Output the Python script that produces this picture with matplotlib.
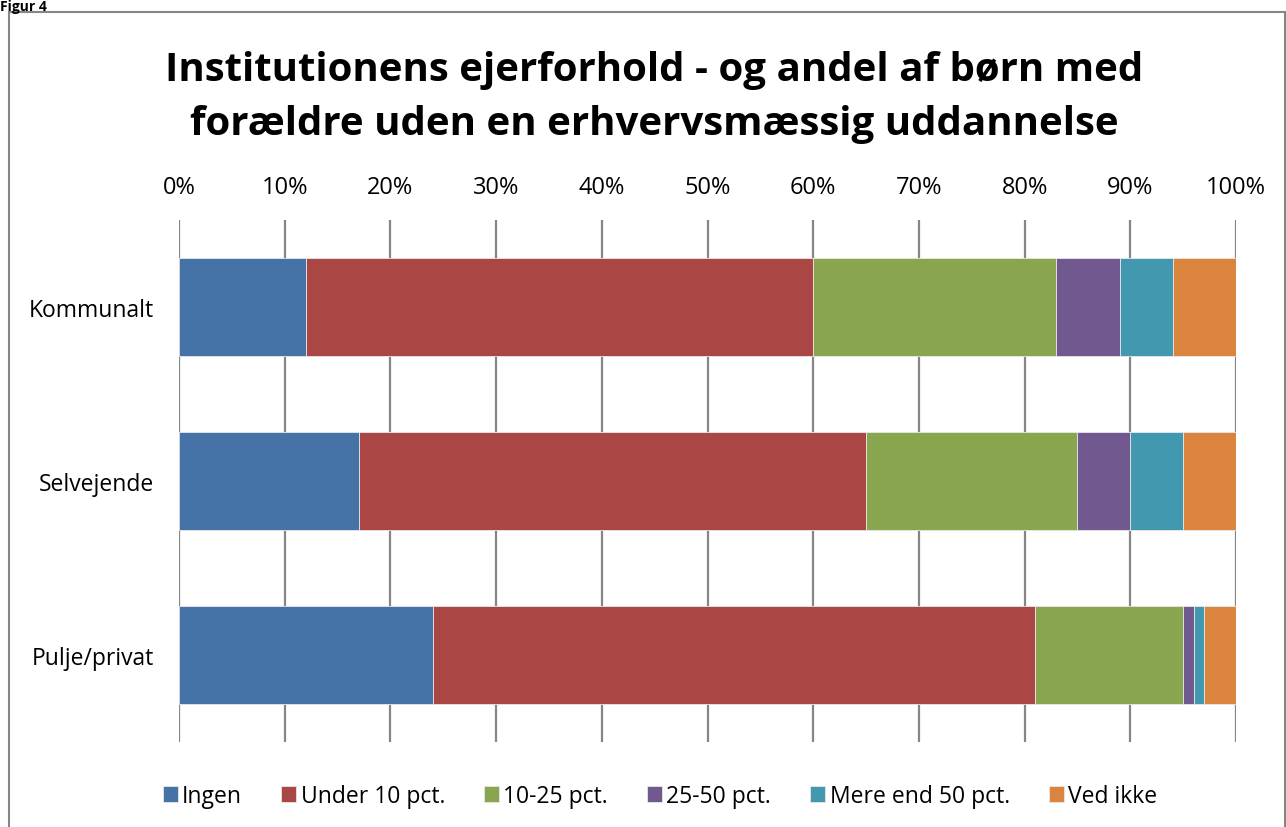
import matplotlib
matplotlib.use('Agg')
import matplotlib.pyplot as plt
import numpy as np
from matplotlib.patches import Rectangle

plt.rcParams['font.family'] = ['Open Sans', 'DejaVu Sans']

# Data (andel i %)
kategorier = ['Kommunalt', 'Selvejende', 'Pulje/privat']
serier = ['Ingen', 'Under 10 pct.', '10-25 pct.', '25-50 pct.', 'Mere end 50 pct.', 'Ved ikke']
ingen = [12, 17, 24]
under10 = [48, 48, 57]
p10_25 = [23, 20, 14]
p25_50 = [6, 5, 1]
mere50 = [5, 5, 1]
ved_ikke = [6, 5, 3]
farver = ['#4572A7', '#AA4643', '#89A54E', '#71588F', '#4198AF', '#DB843D']

fig = plt.figure(figsize=(12.86, 8.28), dpi=100)
ax = fig.add_axes([179/1286, 85/828, 1057/1286, 522/828])

y = np.arange(len(kategorier))
venstre = np.zeros(len(kategorier))
for navn, vaerdier, farve in zip(serier, [ingen, under10, p10_25, p25_50, mere50, ved_ikke], farver):
    ax.barh(y, vaerdier, left=venstre, height=0.56, color=farve, label=navn,
            edgecolor='#e8e8e8', linewidth=0.6, zorder=3)
    venstre += np.array(vaerdier)

ax.set_xlim(0, 100)
ax.set_ylim(2.5, -0.5)
ax.set_yticks(y)
ax.set_yticklabels(kategorier, fontsize=16.5)
ax.set_xticks(np.arange(0, 101, 10))
ax.set_xticklabels([f'{v}%' for v in range(0, 101, 10)], fontsize=17)
ax.xaxis.tick_top()
ax.tick_params(axis='x', length=0, pad=15)
ax.tick_params(axis='y', length=0, pad=18)
ax.grid(axis='x', color='#868686', linewidth=1.6, zorder=0)
for s in ax.spines.values():
    s.set_visible(False)

fig.text(654/1286, 1 - 97/828,
         'Institutionens ejerforhold - og andel af børn med\nforældre uden en erhvervsmæssig uddannelse',
         ha='center', va='center', fontsize=29, fontweight='bold', linespacing=1.5)

fig.text(0.0, 1.0, 'Figur 4', fontsize=10, fontweight='bold', va='top', ha='left')

fig.patches.append(Rectangle((9/1286, -0.01), 1276/1286, 1 - 13/828 + 0.01,
                             transform=fig.transFigure, fill=False,
                             edgecolor='#868686', linewidth=1.5))

fig.legend(loc='center', bbox_to_anchor=(660/1286, 1 - 797/828), ncol=6, frameon=False,
           fontsize=16.5, handlelength=0.65, handleheight=0.65, handletextpad=0.2,
           columnspacing=1.7)

fig.savefig('out.png', dpi=100)
